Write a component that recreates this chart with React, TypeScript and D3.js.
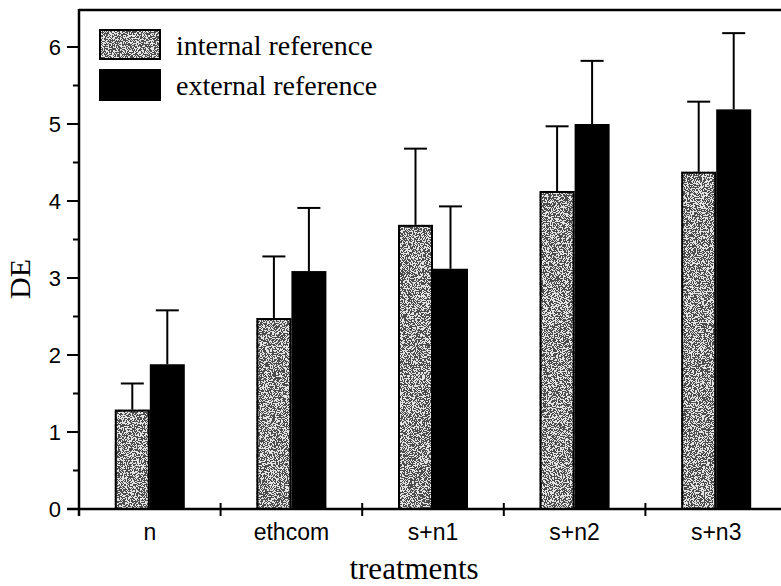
import React from "react";
import * as d3 from "d3";

const categories = ["n", "ethcom", "s+n1", "s+n2", "s+n3"];
const seriesNames = ["internal reference", "external reference"];
const internalMean = [1.29, 2.48, 3.69, 4.13, 4.38];
const internalErr = [0.34, 0.8, 0.99, 0.84, 0.91];
const externalMean = [1.88, 3.09, 3.12, 5.0, 5.19];
const externalErr = [0.7, 0.82, 0.81, 0.82, 0.99];
const yTicks = [0, 1, 2, 3, 4, 5, 6];
const yMinorTicks = [0.5, 1.5, 2.5, 3.5, 4.5, 5.5];

const W = 781;
const H = 586;
const left = 79;
const right = 787;
const top = 10;
const bottom = 509;

export default function App() {
  const x = d3.scaleBand<string>().domain(categories).range([left, right]).paddingInner(0).paddingOuter(0);
  const y = d3.scaleLinear().domain([0, 6]).range([bottom, bottom - 6 * 77]);
  const inner = d3.scaleBand<string>().domain(seriesNames).range([-35, 35]).padding(0);
  const bw = inner.bandwidth();
  const series = [
    { name: seriesNames[0], mean: internalMean, err: internalErr },
    { name: seriesNames[1], mean: externalMean, err: externalErr },
  ];
  const boundaries = categories.map((c) => x(c)!).concat([right]);
  const sans = "Liberation Sans, Arial, sans-serif";
  const serif = "Liberation Serif, Times New Roman, serif";

  return (
    <svg width={W} height={H} style={{ position: "absolute", left: 0, top: 0, background: "#fff" }}>
      <defs>
        <filter id="stipple" x="0" y="0" width="100%" height="100%" colorInterpolationFilters="sRGB">
          <feTurbulence type="fractalNoise" baseFrequency="1.2" numOctaves="2" seed="7" result="noise" />
          <feColorMatrix
            in="noise"
            type="matrix"
            values="0 0 0 0 0.3  0 0 0 0 0.3  0 0 0 0 0.3  1 0 0 0 0"
            result="a"
          />
          <feComponentTransfer in="a" result="dots">
            <feFuncA type="discrete" tableValues="0 0 0 0 0 1 1 1 1 1" />
          </feComponentTransfer>
          <feFlood floodColor="#e4e4e4" result="bg" />
          <feMerge result="m">
            <feMergeNode in="bg" />
            <feMergeNode in="dots" />
          </feMerge>
          <feComposite in="m" in2="SourceGraphic" operator="in" />
        </filter>
      </defs>

      {/* bars */}
      {series.map((s, si) =>
        categories.map((c, i) => {
          const bx = x(c)! + x.bandwidth() / 2 + inner(s.name)!;
          const by = y(s.mean[i]);
          const h = bottom - by;
          const ey = y(s.mean[i] + s.err[i]);
          return (
            <g key={`${si}-${i}`}>
              {si === 0 ? (
                <>
                  <rect x={bx} y={by} width={bw} height={h} fill="#888" filter="url(#stipple)" />
                  <rect x={bx + 1} y={by + 1} width={bw - 2} height={h - 1} fill="none" stroke="#000" strokeWidth={2} />
                </>
              ) : (
                <rect x={bx} y={by} width={bw} height={h} fill="#000" />
              )}
              <line x1={bx + bw / 2} x2={bx + bw / 2} y1={by} y2={ey} stroke="#000" strokeWidth={2} />
              <line x1={bx + bw / 2 - 11.5} x2={bx + bw / 2 + 11.5} y1={ey} y2={ey} stroke="#000" strokeWidth={2} />
            </g>
          );
        })
      )}

      {/* frame / axes */}
      <line x1={left} x2={W} y1={top} y2={top} stroke="#000" strokeWidth={2.5} />
      <line x1={left} x2={left} y1={top - 1} y2={bottom + 7} stroke="#000" strokeWidth={2.5} />
      <line x1={left - 12} x2={W} y1={bottom} y2={bottom} stroke="#000" strokeWidth={2.5} />

      {yTicks.map((t) => (
        <g key={`yt${t}`}>
          <line x1={left - 12} x2={left} y1={y(t)} y2={y(t)} stroke="#000" strokeWidth={2} />
          <text x={left - 18} y={y(t)} dy="0.36em" textAnchor="end" fontFamily={sans} fontSize={22}>
            {t}
          </text>
        </g>
      ))}
      {yMinorTicks.map((t) => (
        <line key={`ym${t}`} x1={left - 6} x2={left} y1={y(t)} y2={y(t)} stroke="#000" strokeWidth={2} />
      ))}

      {boundaries.slice(1).map((b, i) => (
        <line key={`xb${i}`} x1={b} x2={b} y1={bottom - 6} y2={bottom + 7} stroke="#000" strokeWidth={2} />
      ))}
      {categories.map((c) => (
        <text key={`xl${c}`} x={x(c)! + x.bandwidth() / 2} y={540} textAnchor="middle" fontFamily={sans} fontSize={23}>
          {c}
        </text>
      ))}

      {/* axis titles */}
      <text x={414} y={579} textAnchor="middle" fontFamily={serif} fontSize={31}>
        treatments
      </text>
      <text transform={`translate(30,${279}) rotate(-90)`} textAnchor="middle" fontFamily={serif} fontSize={30}>
        DE
      </text>

      {/* legend */}
      <rect x={99} y={29} width={62} height={31} fill="#888" filter="url(#stipple)" />
      <rect x={100} y={30} width={60} height={29} fill="none" stroke="#000" strokeWidth={2} />
      <rect x={99} y={69} width={62} height={32} fill="#000" />
      <text x={176} y={55} fontFamily={serif} fontSize={28}>
        {seriesNames[0]}
      </text>
      <text x={176} y={95} fontFamily={serif} fontSize={28}>
        {seriesNames[1]}
      </text>
    </svg>
  );
}
